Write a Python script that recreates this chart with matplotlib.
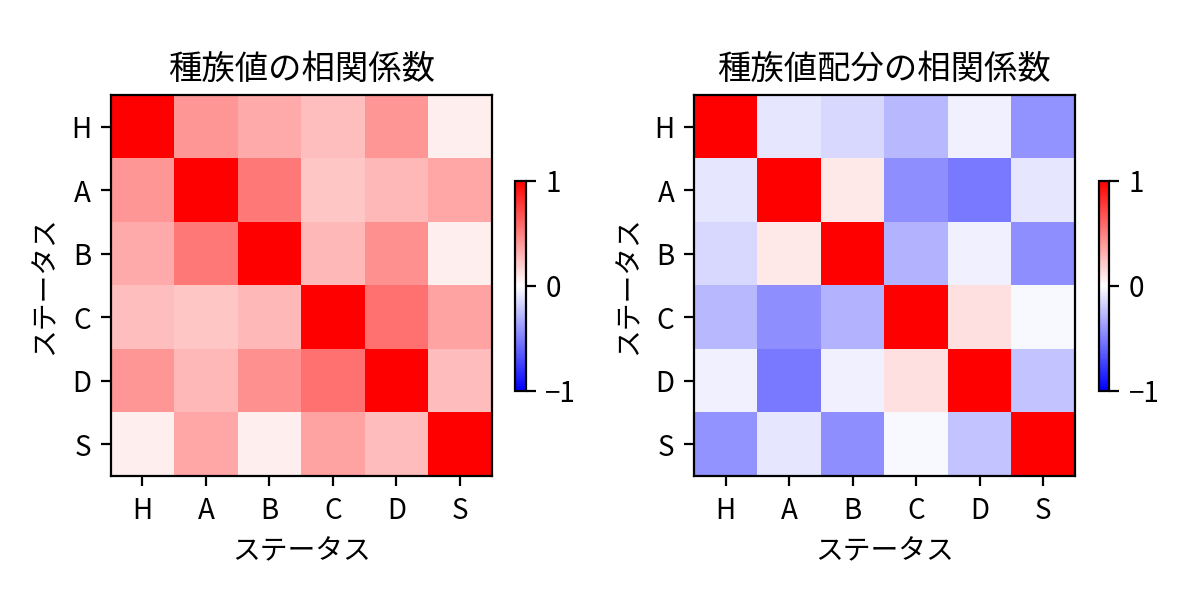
import numpy as np
import matplotlib
matplotlib.use("Agg")
import matplotlib.pyplot as plt

plt.rcParams["font.family"] = ["Noto Sans CJK JP", "DejaVu Sans"]

# ==============================
# Data
# ==============================
stats = ["H", "A", "B", "C", "D", "S"]

corr_values = [
    [1.00, 0.41, 0.33, 0.25, 0.41, 0.07],
    [0.41, 1.00, 0.53, 0.22, 0.28, 0.35],
    [0.33, 0.53, 1.00, 0.28, 0.43, 0.07],
    [0.25, 0.22, 0.28, 1.00, 0.56, 0.36],
    [0.41, 0.28, 0.43, 0.56, 1.00, 0.26],
    [0.07, 0.35, 0.07, 0.36, 0.26, 1.00],
]

corr_ratio = [
    [1.00, -0.10, -0.15, -0.28, -0.06, -0.42],
    [-0.10, 1.00, 0.09, -0.44, -0.52, -0.10],
    [-0.15, 0.09, 1.00, -0.30, -0.06, -0.44],
    [-0.28, -0.44, -0.30, 1.00, 0.12, -0.03],
    [-0.06, -0.52, -0.06, 0.12, 1.00, -0.23],
    [-0.42, -0.10, -0.44, -0.03, -0.23, 1.00],
]

titles = ["種族値の相関係数", "種族値配分の相関係数"]
axis_label = "ステータス"

# ==============================
# Plot
# ==============================
fig, axes = plt.subplots(1, 2, figsize=(6, 3), dpi=200)

for ax, mat, title in zip(axes, [corr_values, corr_ratio], titles):
    im = ax.imshow(np.array(mat), cmap="bwr", vmin=-1, vmax=1)
    ax.set_xticks(np.arange(len(stats)))
    ax.set_xticklabels(stats)
    ax.set_yticks(np.arange(len(stats)))
    ax.set_yticklabels(stats)
    ax.set_xlabel(axis_label)
    ax.set_ylabel(axis_label)
    ax.set_title(title)
    cbar = fig.colorbar(im, ax=ax, shrink=0.41)
    cbar.set_ticks([-1, 0, 1])

fig.tight_layout()
fig.savefig("out.png")
